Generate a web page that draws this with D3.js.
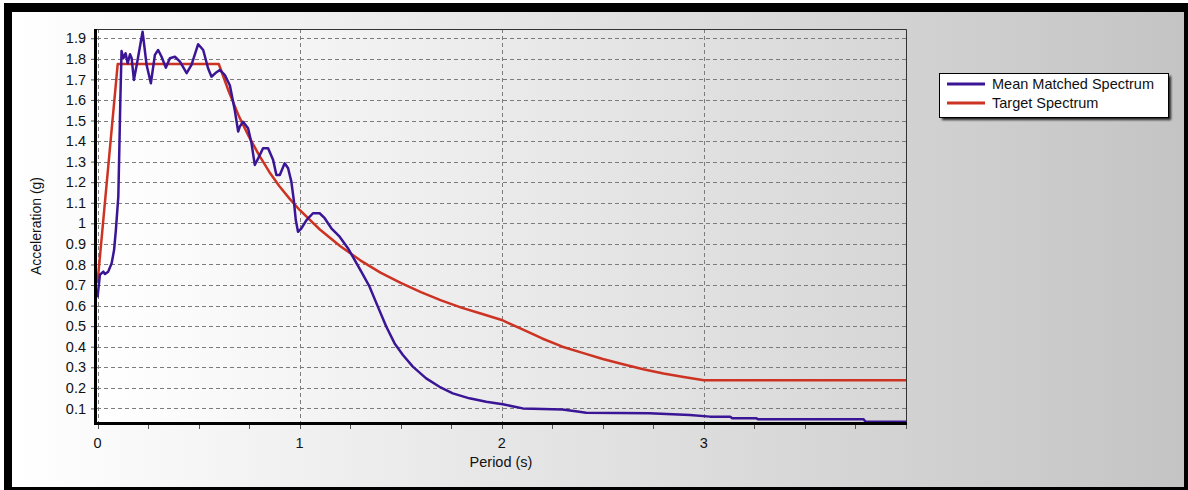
<!DOCTYPE html>
<meta charset="utf-8">
<style>

body {
  margin: 0;
  background: #fff;
}

text {
  font-family: "Liberation Sans", Arial, sans-serif;
  fill: #111;
}

.grid line {
  stroke: #7c7c7c;
  stroke-width: 1px;
  stroke-dasharray: 4,3;
}

</style>
<svg></svg>
<script src="https://d3js.org/d3.v7.min.js"></script>
<script>

// periods (s) and accelerations (g)
var targetPeriod = [0, 0.1, 0.6, 0.65, 0.7, 0.75, 0.8, 0.85, 0.9, 0.95, 1.0, 1.1, 1.2, 1.3, 1.4, 1.5,
    1.6, 1.7, 1.8, 1.9, 2.0, 2.1, 2.2, 2.3, 2.4, 2.5, 2.6, 2.7, 2.8, 2.9, 3.0, 4.0];
var targetAccel = [0.71, 1.775, 1.775, 1.64, 1.52, 1.42, 1.33, 1.25, 1.18, 1.12, 1.065, 0.97, 0.89, 0.82, 0.76, 0.71,
    0.665, 0.625, 0.59, 0.56, 0.53, 0.485, 0.44, 0.40, 0.37, 0.34, 0.315, 0.29, 0.27, 0.253, 0.237, 0.237];

var meanPeriod = [0, 0.012, 0.029, 0.037, 0.053, 0.07, 0.082, 0.091, 0.103, 0.108, 0.113, 0.119, 0.128, 0.139,
    0.149, 0.161, 0.169, 0.18, 0.194, 0.223, 0.243, 0.264, 0.284, 0.3, 0.317, 0.338, 0.358, 0.383, 0.408,
    0.441, 0.465, 0.498, 0.523, 0.547, 0.564, 0.589, 0.605, 0.63, 0.655, 0.679, 0.696, 0.704, 0.72, 0.745,
    0.762, 0.778, 0.795, 0.819, 0.844, 0.869, 0.885, 0.902, 0.926, 0.943, 0.959, 0.971, 0.981, 0.992, 1.009,
    1.034, 1.066, 1.099, 1.124, 1.157, 1.198, 1.239, 1.272, 1.305, 1.346, 1.387, 1.429, 1.47, 1.511, 1.56,
    1.626, 1.692, 1.758, 1.84, 1.923, 2.005, 2.104, 2.3, 2.384, 2.417, 2.73, 2.93, 3.03, 3.13, 3.14, 3.26,
    3.27, 3.79, 3.8, 4.0];
var meanAccel = [0.64, 0.75, 0.765, 0.754, 0.765, 0.806, 0.87, 0.968, 1.13, 1.36, 1.6, 1.838, 1.803, 1.827,
    1.778, 1.822, 1.803, 1.697, 1.77, 1.932, 1.77, 1.681, 1.819, 1.843, 1.81, 1.757, 1.803, 1.81, 1.786,
    1.73, 1.77, 1.871, 1.843, 1.754, 1.713, 1.735, 1.746, 1.721, 1.67, 1.551, 1.446, 1.47, 1.494, 1.462,
    1.389, 1.284, 1.316, 1.365, 1.365, 1.308, 1.235, 1.235, 1.292, 1.268, 1.203, 1.114, 1.016, 0.959, 0.976,
    1.016, 1.049, 1.049, 1.025, 0.976, 0.935, 0.879, 0.822, 0.765, 0.692, 0.595, 0.497, 0.416, 0.36, 0.303,
    0.246, 0.205, 0.173, 0.149, 0.132, 0.12, 0.1, 0.095, 0.084, 0.079, 0.076, 0.068, 0.06, 0.06, 0.052, 0.052,
    0.047, 0.047, 0.035, 0.035];

var xTicks = [0, 1, 2, 3];
var xMinorTicks = d3.range(0, 4.01, 0.25);
var yTicks = [0.1, 0.2, 0.3, 0.4, 0.5, 0.6, 0.7, 0.8, 0.9, 1, 1.1, 1.2, 1.3, 1.4, 1.5, 1.6, 1.7, 1.8, 1.9];

var seriesNames = ["Mean Matched Spectrum", "Target Spectrum"];
var seriesColors = ["#3a1595", "#cc3322"];

var width = 1188,
    height = 490;

var plot = {left: 96, top: 29, right: 906, bottom: 423};

var svg = d3.select("svg")
    .attr("width", width)
    .attr("height", height);

var defs = svg.append("defs");

var panelGrad = defs.append("linearGradient")
    .attr("id", "panelGrad")
    .attr("x1", 0).attr("x2", 1).attr("y1", 0).attr("y2", 0);
panelGrad.append("stop").attr("offset", 0).attr("stop-color", "#ffffff");
panelGrad.append("stop").attr("offset", 1).attr("stop-color", "#c4c4c4");

var plotGrad = defs.append("linearGradient")
    .attr("id", "plotGrad")
    .attr("x1", 0).attr("x2", 1).attr("y1", 0).attr("y2", 0);
plotGrad.append("stop").attr("offset", 0).attr("stop-color", "#ffffff");
plotGrad.append("stop").attr("offset", 1).attr("stop-color", "#d6d6d6");

var shadow = defs.append("filter").attr("id", "shadow")
    .attr("x", "-10%").attr("y", "-20%").attr("width", "130%").attr("height", "160%");
shadow.append("feGaussianBlur").attr("stdDeviation", 1.2);

// outer frame
svg.append("rect")
    .attr("x", 4).attr("y", 3)
    .attr("width", width - 4).attr("height", height - 3)
    .attr("fill", "#000");

svg.append("rect")
    .attr("x", 12).attr("y", 12)
    .attr("width", 1172).attr("height", 475)
    .attr("fill", "url(#panelGrad)");

svg.append("rect")
    .attr("x", plot.left).attr("y", plot.top)
    .attr("width", plot.right - plot.left).attr("height", plot.bottom - plot.top)
    .attr("fill", "url(#plotGrad)");

var x = d3.scaleLinear()
    .domain([0, 4])
    .range([97.5, 906]);

var y = d3.scaleLinear()
    .domain([0.029, 1.945])
    .range([plot.bottom, plot.top]);

// grid
var grid = svg.append("g").attr("class", "grid");

grid.selectAll(".hg")
    .data(yTicks)
  .enter().append("line")
    .attr("x1", plot.left + 1)
    .attr("x2", plot.right)
    .attr("y1", function(d) { return Math.round(y(d)) + 0.5; })
    .attr("y2", function(d) { return Math.round(y(d)) + 0.5; });

grid.selectAll(".vg")
    .data(xTicks)
  .enter().append("line")
    .attr("x1", function(d) { return Math.round(x(d)) + 0.5; })
    .attr("x2", function(d) { return Math.round(x(d)) + 0.5; })
    .attr("y1", plot.top)
    .attr("y2", plot.bottom);

// series
var line = d3.line()
    .x(function(d) { return x(d[0]); })
    .y(function(d) { return y(d[1]); });

var clip = defs.append("clipPath").attr("id", "clip");
clip.append("rect")
    .attr("x", plot.left).attr("y", plot.top - 2)
    .attr("width", plot.right - plot.left).attr("height", plot.bottom - plot.top + 2);

var series = svg.append("g").attr("clip-path", "url(#clip)");

series.append("path")
    .datum(d3.zip(targetPeriod, targetAccel))
    .attr("fill", "none")
    .attr("stroke", seriesColors[1])
    .attr("stroke-width", 2.5)
    .attr("stroke-linejoin", "round")
    .attr("d", line);

series.append("path")
    .datum(d3.zip(meanPeriod, meanAccel))
    .attr("fill", "none")
    .attr("stroke", seriesColors[0])
    .attr("stroke-width", 2.5)
    .attr("stroke-linejoin", "round")
    .attr("d", line);

// plot border (top / right thin)
svg.append("path")
    .attr("d", "M" + plot.left + "," + (plot.top + 0.5) + "H" + (plot.right + 0.5) + "V" + plot.bottom)
    .attr("fill", "none")
    .attr("stroke", "#333")
    .attr("stroke-width", 1);

// axes
var xAxis = svg.append("g")
    .attr("transform", "translate(0," + (plot.bottom + 1) + ")");

xAxis.selectAll(".minor")
    .data(xMinorTicks)
  .enter().append("line")
    .attr("x1", function(d) { return Math.round(x(d)) + 0.5; })
    .attr("x2", function(d) { return Math.round(x(d)) + 0.5; })
    .attr("y1", 0)
    .attr("y2", 5)
    .attr("stroke", "#555");

xAxis.selectAll("text")
    .data(xTicks)
  .enter().append("text")
    .attr("x", function(d) { return x(d); })
    .attr("y", 24)
    .attr("text-anchor", "middle")
    .style("font-size", "14.5px")
    .text(function(d) { return d; });

svg.append("line")
    .attr("x1", plot.left - 1).attr("x2", plot.right + 1)
    .attr("y1", plot.bottom + 0.5).attr("y2", plot.bottom + 0.5)
    .attr("stroke", "#000")
    .attr("stroke-width", 3);

var yAxis = svg.append("g")
    .attr("transform", "translate(" + plot.left + ",0)")
    .call(d3.axisLeft(y).tickValues(yTicks).tickSize(5).tickPadding(5).tickFormat(d3.format("")));

yAxis.select(".domain").remove();
yAxis.selectAll(".tick line").attr("stroke", "#555");
yAxis.selectAll(".tick text")
    .style("font-size", "14.5px")
    .style("font-family", "'Liberation Sans', Arial, sans-serif")
    .attr("fill", "#111");

svg.append("line")
    .attr("x1", plot.left - 0.5).attr("x2", plot.left - 0.5)
    .attr("y1", plot.top).attr("y2", plot.bottom + 2)
    .attr("stroke", "#000")
    .attr("stroke-width", 3);

// axis titles
svg.append("text")
    .attr("x", (plot.left + plot.right) / 2)
    .attr("y", 467)
    .attr("text-anchor", "middle")
    .style("font-size", "14.5px")
    .text("Period (s)");

svg.append("text")
    .attr("transform", "translate(41," + ((plot.top + plot.bottom) / 2) + ") rotate(-90)")
    .attr("text-anchor", "middle")
    .style("font-size", "14px")
    .text("Acceleration (g)");

// legend
var legend = svg.append("g").attr("transform", "translate(939,73)");

legend.append("rect")
    .attr("x", 3).attr("y", 3)
    .attr("width", 229).attr("height", 44)
    .attr("fill", "#222")
    .attr("filter", "url(#shadow)");

legend.append("rect")
    .attr("x", 0.5).attr("y", 0.5)
    .attr("width", 229).attr("height", 44)
    .attr("fill", "#fff")
    .attr("stroke", "#000");

var item = legend.selectAll(".item")
    .data(seriesNames)
  .enter().append("g")
    .attr("transform", function(d, i) { return "translate(0," + (11 + i * 19) + ")"; });

item.append("line")
    .attr("x1", 8).attr("x2", 46)
    .attr("y1", 0).attr("y2", 0)
    .attr("stroke", function(d, i) { return seriesColors[i]; })
    .attr("stroke-width", 3);

item.append("text")
    .attr("x", 53)
    .attr("y", 5)
    .style("font-size", "14.5px")
    .text(function(d) { return d; });

</script>
